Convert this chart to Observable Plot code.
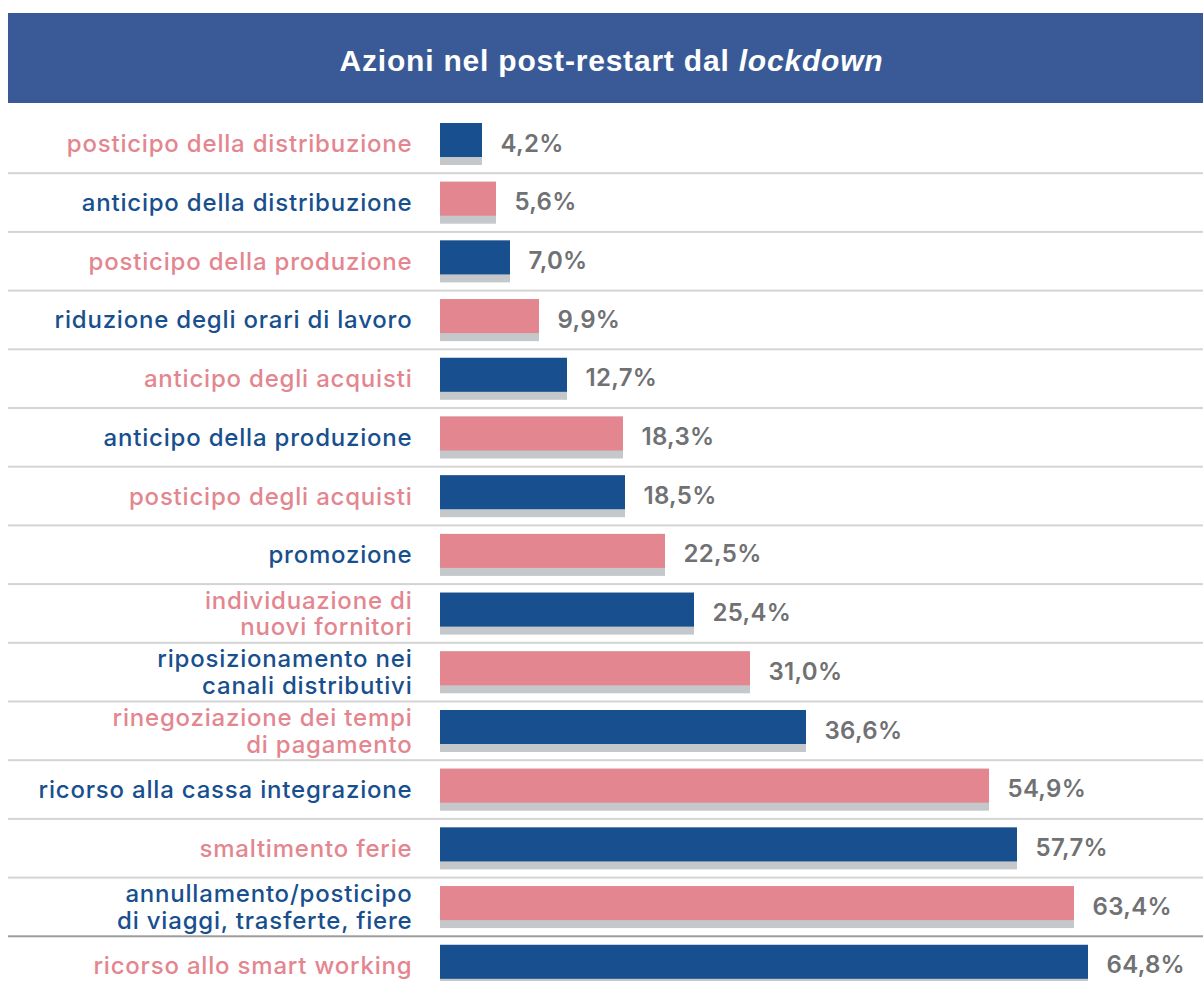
<!DOCTYPE html>
<html>
<head>
<meta charset="utf-8">
<script src="https://cdn.jsdelivr.net/npm/d3@7"></script>
<script src="https://cdn.jsdelivr.net/npm/@observablehq/plot@0.6"></script>
<style>
  html, body { margin: 0; padding: 0; background: #fff; overflow: hidden; width: 1203px; height: 981px; }
  #title {
    position: absolute; left: 8px; top: 13px; width: 1195px; height: 90px;
    background: #395a96; color: #fff;
    display: flex; align-items: center; justify-content: center;
    font-family: "Liberation Sans", Arial, sans-serif; font-weight: 700; font-size: 30px;
    letter-spacing: 0.8px;
    padding-left: 12px; padding-top: 5px; box-sizing: border-box;
  }
  #chart { position: absolute; left: 0; top: 103px; }
  #chart svg { display: block; }
</style>
</head>
<body>
<div id="title">Azioni nel post-restart dal&nbsp;<i>lockdown</i></div>
<div id="chart"></div>
<script>
const labels = [
  "posticipo della distribuzione",
  "anticipo della distribuzione",
  "posticipo della produzione",
  "riduzione degli orari di lavoro",
  "anticipo degli acquisti",
  "anticipo della produzione",
  "posticipo degli acquisti",
  "promozione",
  "individuazione di\nnuovi fornitori",
  "riposizionamento nei\ncanali distributivi",
  "rinegoziazione dei tempi\ndi pagamento",
  "ricorso alla cassa integrazione",
  "smaltimento ferie",
  "annullamento/posticipo\ndi viaggi, trasferte, fiere",
  "ricorso allo smart working"
];
const values = [4.2, 5.6, 7.0, 9.9, 12.7, 18.3, 18.5, 22.5, 25.4, 31.0, 36.6, 54.9, 57.7, 63.4, 64.8];

const BLUE = "#184f8e";
const PINK = "#e3868f";
const data = labels.map((label, i) => ({
  label, value: values[i], i,
  barColor: i % 2 === 0 ? BLUE : PINK,
  textColor: i % 2 === 0 ? PINK : BLUE
}));

const xMax = 76.3;
const sepX1 = (8 - 440) / 10;
const mTop = 11;
const band = 58.7;
const fmt = v => v.toFixed(1).replace(".", ",") + "%";

const chart = Plot.plot({
  width: 1203,
  height: mTop + band * labels.length,
  marginTop: mTop,
  marginBottom: 0,
  marginLeft: 440,
  marginRight: 0,
  x: { domain: [0, xMax], axis: null },
  y: { domain: labels, axis: null, padding: 0, round: false },
  color: { type: "identity" },
  style: { fontFamily: "Inter, sans-serif", background: "transparent" },
  marks: [
    Plot.barX(data.slice(0, 13), { x1: () => sepX1, x2: () => xMax, y: "label", insetTop: band - 0.5, insetBottom: -1.5, fill: "#d4d4d4" }),
    Plot.barX(data.slice(13, 14), { x1: () => sepX1, x2: () => xMax, y: "label", insetTop: band - 0.5, insetBottom: -1.5, fill: "#9d9d9d" }),
    Plot.barX(data, { x: "value", y: "label", insetTop: 9, insetBottom: band - 51, fill: "#c5c8cb" }),
    Plot.barX(data, { x: "value", y: "label", insetTop: 9, insetBottom: band - 43, fill: "barColor" }),
    Plot.text(data, {
      x: () => 0, y: "label", text: "label", dx: -28, dy: 0,
      textAnchor: "end", fill: "textColor", fontSize: 24, fontWeight: 500, lineHeight: 1.1
    }),
    Plot.text(data, {
      x: "value", y: "label", text: d => fmt(d.value), dx: 18, dy: 0,
      textAnchor: "start", fill: "#707173", fontSize: 24, fontWeight: 600
    })
  ]
});
const textGroups = chart.querySelectorAll("g[aria-label='text']");
if (textGroups[0]) textGroups[0].setAttribute("letter-spacing", "0.8");
if (textGroups[1]) textGroups[1].setAttribute("letter-spacing", "0.3");
document.getElementById("chart").appendChild(chart);
</script>
</body>
</html>
